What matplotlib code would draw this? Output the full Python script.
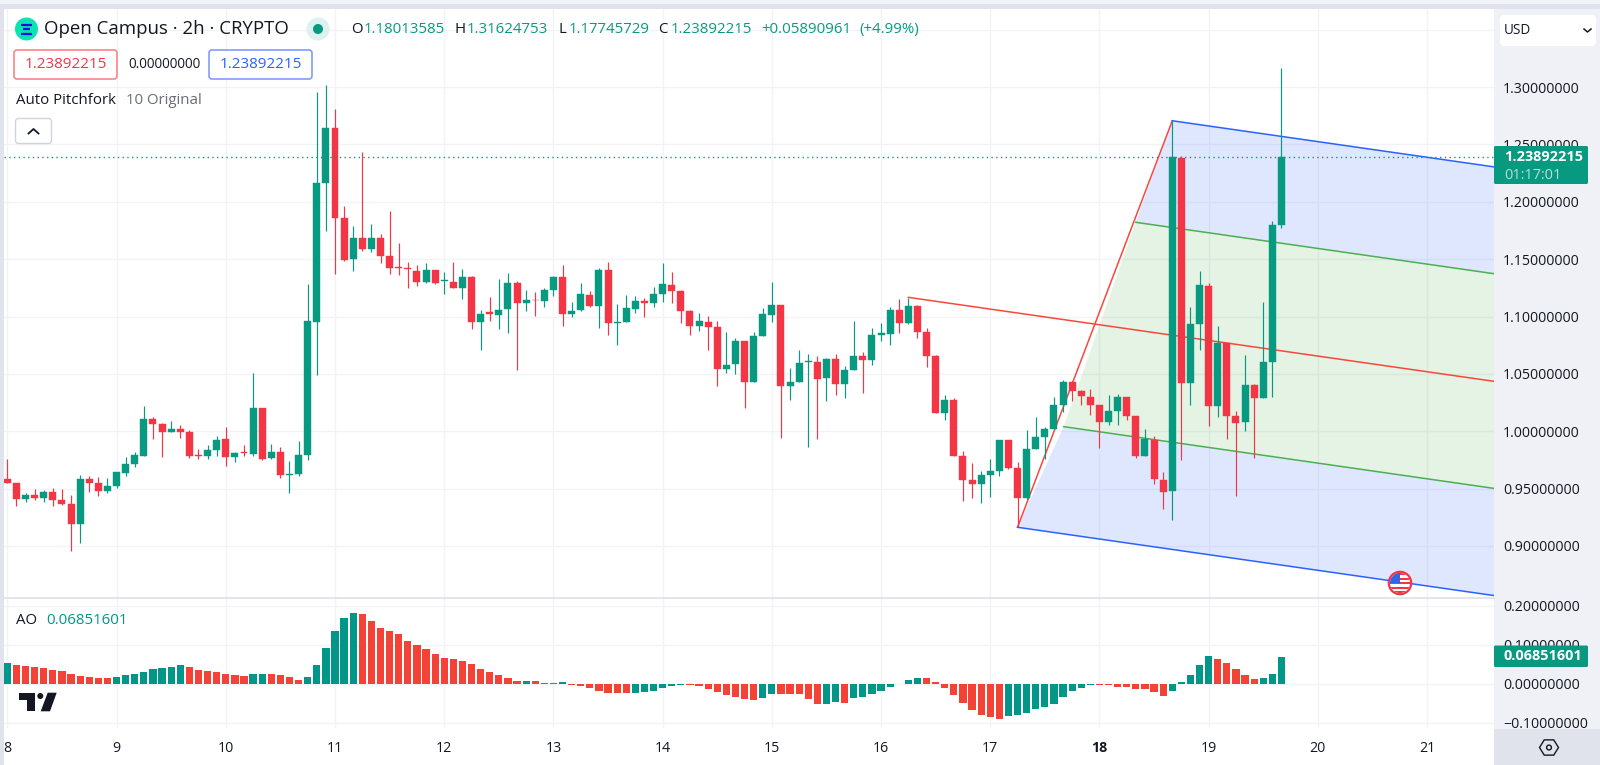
import matplotlib
matplotlib.use('Agg')
import matplotlib.pyplot as plt
from matplotlib.patches import Circle, FancyBboxPatch, Polygon, Rectangle
import numpy as np

plt.rcParams['font.family'] = ['Open Sans', 'DejaVu Sans']

GREEN = '#089981'
RED = '#F23645'
AO_GREEN = '#009688'
AO_RED = '#F44336'
BLUE = '#2962FF'
FORK_RED = '#F9483B'
DARK = '#131722'
GRID = '#F1F3F6'
PANEL = '#E0E3EB'

# 2h candles, one row per day, starting on the 8th
opens = [.9586, .9548, .9409, .9447, .9417, .9473, .9397, .9368, .9193, .9583, .9551, .9476,
         .9522, .9639, .9711, .9787, 1.011, 1.0061, .9997, 1.0017, .9994, .9796, .9781, .9834,
         .993, .9773, .9819, .9805, 1.02, .9764, .9819, .9618, .9624, .9793, 1.0956, 1.2166,
         1.2642, 1.1855, 1.15, 1.168, 1.1584, 1.1686, 1.1523, 1.143, 1.1419, 1.1398, 1.1302, 1.1407,
         1.1308, 1.1302, 1.125, 1.134, 1.0956, 1.1035, 1.1012, 1.1064, 1.1288, 1.1119, 1.1148, 1.1131,
         1.123, 1.134, 1.102, 1.1055, 1.1189, 1.109, 1.1407, 1.0941, 1.095, 1.1069, 1.1136, 1.1119,
         1.12, 1.1276, 1.1221, 1.1052, 1.0918, 1.0956, 1.0906, 1.0543, 1.0586, 1.0784, 1.0429, 1.0834,
         1.1017, 1.1096, 1.0397, 1.0426, 1.0601, 1.0601, 1.0464, 1.063, 1.0415, 1.0531, 1.0656, 1.0621,
         1.0842, 1.0851, 1.1061, 1.0941, 1.109, 1.0867, 1.0655, 1.0159, 1.0275, .9788, .9576, .9536,
         .9617, .9652, .9927, .9683, .9417, .9846, .9953, 1.002, 1.0226, 1.0432, 1.035, 1.0301,
         1.0226, 1.0081, 1.0174, 1.0301, 1.013, .9782, .9927, .9575, .9479, 1.238, 1.0422, 1.0937,
         1.1269, 1.0218, 1.0771, 1.0134, 1.0078, 1.0404, 1.0294, 1.0605, 1.1801]
highs = [.9758, .9548, .9464, .9493, .9487, .9502, .9499, .9444, .9618, .9607, .9604, .9595,
         .9647, .9773, .9819, 1.0218, 1.0122, 1.0072, 1.0093, 1.0055, 1.0011, .9848, .9883, .9962,
         1.0034, .9822, .988, 1.0509, 1.0203, .9889, .9866, .9738, .9918, 1.1283, 1.2953, 1.302,
         1.2811, 1.1965, 1.1791, 1.243, 1.1805, 1.1718, 1.1916, 1.1639, 1.1477, 1.1448, 1.1468, 1.1407,
         1.139, 1.1477, 1.1416, 1.1349, 1.1055, 1.1166, 1.1326, 1.1378, 1.1308, 1.1227, 1.1215, 1.125,
         1.1349, 1.1448, 1.1128, 1.1296, 1.1221, 1.1419, 1.1474, 1.1113, 1.1186, 1.118, 1.1157, 1.1258,
         1.1462, 1.1384, 1.1235, 1.1055, 1.1034, 1.1008, 1.0962, 1.0869, 1.0816, 1.0784, 1.0863, 1.1072,
         1.1302, 1.1101, 1.0548, 1.0708, 1.0671, 1.0659, 1.0636, 1.0671, 1.0569, 1.0959, 1.0688, 1.09,
         1.0941, 1.1087, 1.1151, 1.1165, 1.1096, 1.0901, 1.0661, 1.0316, 1.029, .9831, .9724, .9654,
         .9759, .9924, .9927, .9733, 1.0011, 1.0121, 1.0034, 1.0298, 1.0449, 1.044, 1.0359, 1.0365,
         1.0232, 1.0316, 1.0324, 1.0301, 1.013, 1.0017, .9956, .9642, 1.27, 1.2395, 1.1085, 1.14,
         1.1289, 1.0919, 1.0771, 1.0177, 1.0666, 1.0413, 1.1129, 1.1836, 1.3162]
lows = [.9546, .9345, .938, .9403, .9385, .9345, .9359, .8958, .9025, .9467, .9438, .9464,
        .9502, .9613, .9685, .9781, .993, .9778, .9994, .9941, .9767, .9758, .9755, .9781,
        .9694, .9732, .9781, .9787, .9752, .9755, .9595, .9458, .961, .975, 1.0494, 1.1744,
        1.1369, 1.1488, 1.1395, 1.157, 1.1561, 1.1468, 1.1369, 1.136, 1.1247, 1.1265, 1.1296, 1.1279,
        1.1198, 1.125, 1.1154, 1.0895, 1.0706, 1.0965, 1.0895, 1.086, 1.0535, 1.1052, 1.1003, 1.1087,
        1.118, 1.0921, 1.0994, 1.1052, 1.1081, 1.09, 1.084, 1.0755, 1.095, 1.1034, 1.0994, 1.1084,
        1.113, 1.1119, 1.0947, 1.084, 1.0871, 1.0706, 1.0397, 1.0508, 1.0495, 1.0202, 1.0429, 1.0834,
        1.0956, .9937, 1.0272, 1.0426, .9867, .9935, 1.0266, 1.0319, 1.0292, 1.0531, 1.0336, 1.0578,
        1.0787, 1.0749, 1.0854, 1.0933, 1.0813, 1.0562, 1.0159, 1.0098, .9782, .9388, .9414, .9376,
        .9425, .9611, .9669, .9164, .9411, .9846, .9759, 1.002, 1.0165, 1.0266, 1.0232, 1.0139,
        .9855, 1.0058, 1.0058, 1.0101, .9768, .9782, .9536, .9319, .9223, .975, 1.0227, 1.071,
        1.0046, 1.0125, .993, .9432, 1.0003, .9764, 1.0294, 1.0302, 1.1775]
closes = [.9546, .9409, .9447, .942, .9473, .9397, .9368, .9193, .9586, .9551, .9479, .9525,
          .9642, .9711, .979, 1.011, 1.0066, .9997, 1.0017, .9994, .9787, .9784, .9834, .9927,
          .9773, .9813, .981, 1.0203, .9761, .9816, .9618, .963, .9793, 1.0961, 1.2166, 1.2642,
          1.1855, 1.1494, 1.1683, 1.1584, 1.1686, 1.1526, 1.1421, 1.1421, 1.1413, 1.1302, 1.1407, 1.1296,
          1.1314, 1.125, 1.134, 1.0956, 1.1026, 1.1026, 1.1061, 1.1288, 1.1122, 1.1145, 1.1142, 1.1233,
          1.1343, 1.102, 1.1052, 1.1192, 1.1093, 1.1407, 1.0941, 1.0953, 1.1072, 1.1136, 1.1119, 1.12,
          1.1282, 1.1221, 1.1052, 1.0918, 1.0962, 1.0906, 1.0543, 1.0578, 1.0784, 1.0429, 1.0834, 1.1023,
          1.1096, 1.0397, 1.0432, 1.0592, 1.0609, 1.0458, 1.063, 1.0415, 1.0531, 1.0656, 1.0621, 1.0839,
          1.0854, 1.1061, 1.0944, 1.109, 1.0866, 1.0655, 1.0159, 1.0275, .9788, .9576, .9536, .9617,
          .9652, .9924, .9681, .9422, .9846, .9953, 1.0023, 1.0226, 1.0432, 1.0353, 1.0304, 1.0226,
          1.0081, 1.0174, 1.0301, 1.0133, .9788, .993, .9582, .947, 1.2389, 1.0422, 1.0934, 1.1271,
          1.0218, 1.0771, 1.0134, 1.0073, 1.0404, 1.0294, 1.0602, 1.1795, 1.2389]

ao = [.0515, .048, .0446, .043, .0395, .0343, .0309, .0249, .0189, .0163, .0146, .0129,
      .0163, .0215, .0232, .0292, .0369, .0403, .0429, .0464, .0412, .0352, .0309, .0283,
      .0232, .0206, .0205, .0249, .025, .0232, .0223, .0172, .0086, .0172, .0481, .0918,
      .1348, .1674, .182, .1794, .1605, .1425, .1348, .1262, .1082, .0979, .0876, .0755,
      .0661, .0627, .0575, .0489, .0378, .0292, .0223, .0129, .0052, .0077, .0052, .0018,
      .0016, .0043, -.0034, -.0069, -.0112, -.018, -.0232, -.0249, -.025, -.0232, -.0215, -.0197,
      -.0112, -.0069, -.004, -.0043, -.0069, -.0146, -.0223, -.0292, -.0335, -.0403, -.0421, -.0361,
      -.0258, -.0275, -.0276, -.0277, -.0395, -.0528, -.0524, -.0481, -.0498, -.0378, -.0335, -.0258,
      -.018, -.0077, -.0017, .0094, .0146, .0129, .0043, -.0103, -.0283, -.0498, -.0687, -.0815,
      -.0867, -.091, -.0824, -.0815, -.0755, -.0652, -.0592, -.0515, -.0335, -.0197, -.0112, -.0034,
      -.0036, -.0038, -.0077, -.0094, -.0129, -.0137, -.0206, -.0318, -.018, .0043, .0206, .0472,
      .0712, .0635, .0515, .0378, .0223, .0112, .0129, .024, .0685]

day_ticks = [8, 9, 10, 11, 12, 13, 14, 15, 16, 17, 18, 19, 20, 21]
price_ticks = [.90, .95, 1.00, 1.05, 1.10, 1.15, 1.20, 1.25, 1.30, 1.35]
ao_ticks = [-.10, 0, .10, .20]
last_price = 1.23892215

# pitchfork anchors (day, price)
RIGHT_DAY = 21.613
fork_a = [17.25, .9163]
fork_b = [18.667, 1.2706]
fork_h = [16.25, 1.1167]
green_up_start = [18.332, 1.1821]
green_lo_start = [17.673, 1.004]
end_upper = [RIGHT_DAY, 1.2304]
end_green_up = [RIGHT_DAY, 1.1373]
end_median = [RIGHT_DAY, 1.0435]
end_green_lo = [RIGHT_DAY, .9502]
end_lower = [RIGHT_DAY, .8568]

WIDTH, HEIGHT = 1600, 765


def pane(left, top, right, bottom, **kwargs):
    return fig.add_axes([left / WIDTH, 1 - bottom / HEIGHT,
                         (right - left) / WIDTH, (bottom - top) / HEIGHT], **kwargs)


def price_label(v, pos):
    # the 1.35 gridline has no label, the USD button sits there
    if v > 1.32:
        return ''
    return f'{v:.8f}'.replace('-', '\u2212')


def style_pane(ax, ticks):
    ax.set_xlim(7.969, RIGHT_DAY)
    ax.set_xticks(day_ticks)
    ax.set_yticks(ticks)
    ax.yaxis.tick_right()
    ax.yaxis.set_major_formatter(price_label)
    ax.grid(True, color=GRID, linewidth=1.0)
    ax.set_axisbelow(True)
    ax.tick_params(length=0, labelsize=10.2, labelcolor=DARK)
    ax.tick_params(axis='y', pad=6.5)
    for spine in ax.spines.values():
        spine.set_visible(False)


def rounded(x0, y0, x1, y1, edge, face='white', lw=1.0, r=3):
    ui.add_patch(FancyBboxPatch((x0 + r, y0 + r), x1 - x0 - 2 * r, y1 - y0 - 2 * r,
                                boxstyle=f'round,pad={r},rounding_size={r}',
                                edgecolor=edge, facecolor=face, linewidth=lw))


def label(x, y, s, color=DARK, px=15, **kwargs):
    kwargs.setdefault('va', 'center')
    ui.text(x, y, s, color=color, fontsize=px * 0.72, **kwargs)


fig = plt.figure(figsize=(WIDTH / 100, HEIGHT / 100), dpi=100, facecolor='white')

# page background, behind everything
bg = pane(0, 0, WIDTH, HEIGHT, zorder=0)
bg.set_xlim(0, WIDTH)
bg.set_ylim(HEIGHT, 0)
bg.axis('off')
bg.add_patch(Rectangle((0, 0), WIDTH, 4, color='#F0F3FA', lw=0))
bg.add_patch(Rectangle((0, 4), WIDTH, 5, color=PANEL, lw=0))
bg.add_patch(Rectangle((0, 4), 4, HEIGHT, color=PANEL, lw=0))
bg.add_patch(Rectangle((1494, 9), 106, 720, color='#F0F1F6', lw=0))
bg.add_patch(Rectangle((1494, 729), 106, 36, color=PANEL, lw=0))

ax = pane(4, 9, 1494, 597.5, zorder=1)
style_pane(ax, price_ticks)
ax.set_ylim(.8551, 1.368)
ax.tick_params(axis='x', labelbottom=False)

days = 8 + np.arange(len(closes)) / 12
opens = np.array(opens)
closes = np.array(closes)
up = closes >= opens
candle_colors = np.where(up, GREEN, RED)

# pitchfork fills and lines go under the candles
ax.fill(*zip(green_up_start, fork_b, end_upper, end_green_up), color=BLUE, alpha=.15, lw=0, zorder=1.5)
ax.fill(*zip(green_lo_start, green_up_start, end_green_up, end_green_lo), color='#4CAF50', alpha=.15, lw=0, zorder=1.5)
ax.fill(*zip(fork_a, green_lo_start, end_green_lo, end_lower), color=BLUE, alpha=.15, lw=0, zorder=1.5)
ax.plot(*zip(fork_a, fork_b), color=FORK_RED, lw=1.1, zorder=1.8)
ax.plot(*zip(fork_h, end_median), color=FORK_RED, lw=1.1, zorder=1.8)
ax.plot(*zip(fork_b, end_upper), color=BLUE, lw=1.1, zorder=1.8)
ax.plot(*zip(fork_a, end_lower), color=BLUE, lw=1.1, zorder=1.8)
ax.plot(*zip(green_up_start, end_green_up), color='#4CAF50', lw=1.1, zorder=1.8)
ax.plot(*zip(green_lo_start, end_green_lo), color='#4CAF50', lw=1.1, zorder=1.8)

ax.vlines(days, lows, highs, colors=candle_colors, linewidth=.85, zorder=2)
ax.bar(days, np.abs(closes - opens), bottom=np.minimum(opens, closes), width=.064,
       color=candle_colors, edgecolor=candle_colors, linewidth=.3, zorder=2.5)
ax.axhline(last_price, color=GREEN, linewidth=1, linestyle=(0, (1, 2.4)), zorder=3)

ax_ao = pane(4, 599, 1494, 728, zorder=1)
style_pane(ax_ao, ao_ticks)
ax_ao.set_ylim(-.1141, .2167)
ao = np.array(ao)
rising = np.concatenate([[True], np.diff(ao) > 0])
ax_ao.bar(days, ao, width=.066, color=np.where(rising, AO_GREEN, AO_RED), zorder=2)
ax_ao.tick_params(axis='x', pad=9.5)
for tick in ax_ao.get_xticklabels():
    if tick.get_text() == '18':
        tick.set_fontweight('bold')

# everything from the chart's own toolbar, placed in pixels
ui = pane(0, 0, WIDTH, HEIGHT, zorder=5)
ui.set_xlim(0, WIDTH)
ui.set_ylim(HEIGHT, 0)
ui.axis('off')
ui.patch.set_alpha(0)

ui.plot([4, 1494], [598, 598], color=PANEL, lw=1.3)

# symbol icon
ui.add_patch(Circle((26.5, 29), 11.5, color='#0BE3B0', lw=0))
for bar_y, x0, x1 in zip([24.5, 29, 33.5], [21, 23, 21], [32, 30, 32]):
    ui.plot([x0, x1], [bar_y, bar_y], color='#1010E0', lw=1.6, solid_capstyle='butt')
label(43.5, 29, 'Open Campus \u00b7 2h \u00b7 CRYPTO', px=18.6)
ui.add_patch(Circle((318, 29), 11.5, color='#DDF1EE', lw=0))
ui.add_patch(Circle((318, 29), 5, color=GREEN, lw=0))

for x, s in zip([351, 455, 558, 658], 'OHLC'):
    label(x, 29.5, s)
for x, s in zip([364, 467, 568.5, 671, 761, 859],
                ['1.18013585', '1.31624753', '1.17745729', '1.23892215', '+0.05890961', '(+4.99%)']):
    label(x, 29.5, s, color=GREEN)

rounded(14, 50, 117, 79, '#F77C80', lw=1.1)
label(65.5, 64.5, '1.23892215', color=RED, ha='center', px=15.3)
label(128, 64.5, '0.00000000', px=13.5)
rounded(209, 50, 312, 79, '#7595FF', lw=1.1)
label(260.5, 64.5, '1.23892215', color=BLUE, ha='center', px=15.3)
label(15.5, 100, 'Auto Pitchfork', px=15)
label(126, 100, '10 Original', color='#6A6D78', px=15)
rounded(15.5, 118.5, 51.5, 143.5, '#D1D4DC')
ui.plot([28.5, 33.5, 38.5], [133.5, 129, 133.5], color=DARK, lw=1.3)

label(15.5, 620, 'AO', px=15)
label(46, 620, '0.06851601', color=AO_GREEN, px=15)

# TradingView mark
ui.add_patch(Polygon([(19, 692.7), (34.7, 692.7), (34.7, 711.3), (26.7, 711.3), (26.7, 700), (19, 700)], color=DARK, lw=0))
ui.add_patch(Circle((40.3, 696), 3, color=DARK, lw=0))
ui.add_patch(Polygon([(47.7, 692.7), (56.7, 692.7), (50, 711.3), (40.7, 711.3)], color=DARK, lw=0))

# flag badge on the time scale
flag_x, flag_y = 1400, 583
flag = Circle((flag_x, flag_y), 10, facecolor='white', edgecolor='none')
ui.add_patch(flag)
for offset in [-10, -5.5, -1, 3.5, 8]:
    stripe = Rectangle((flag_x - 12, flag_y + offset), 24, 2.2, color=RED, lw=0)
    ui.add_patch(stripe)
    stripe.set_clip_path(flag)
canton = Rectangle((flag_x - 12, flag_y - 12), 12, 12, color='#2F66E8', lw=0)
ui.add_patch(canton)
canton.set_clip_path(flag)
ui.add_patch(Circle((flag_x, flag_y), 11.2, facecolor='none', edgecolor=RED, lw=1.6))

# last value tags on the axis
rounded(1494, 146, 1588, 184, GREEN, face=GREEN, lw=0, r=1.5)
label(1504, 156.5, '1.23892215', color='white', px=14.5, fontweight='bold')
label(1504, 175, '01:17:01', color='#B7E0D9', px=14.5)
rounded(1494, 645.5, 1588, 667, GREEN, face=GREEN, lw=0, r=1.5)
label(1504, 656.5, '0.06851601', color='white', px=14.5, fontweight='bold')

rounded(1500, 15, 1596, 46, 'white', lw=0, r=4)
label(1504, 30.5, 'USD', px=13.5)
ui.plot([1584, 1587.5, 1591], [29, 32, 29], color=DARK, lw=1.1)

# settings hexagon
hex_angles = np.deg2rad([0, 60, 120, 180, 240, 300])
ui.add_patch(Polygon(np.column_stack([1549 + 9.5 * np.cos(hex_angles), 747.5 + 8.8 * np.sin(hex_angles)]),
                     facecolor='none', edgecolor=DARK, lw=1))
ui.add_patch(Circle((1549, 747.5), 2.4, facecolor='none', edgecolor=DARK, lw=1))

fig.savefig('out.png', dpi=100, facecolor=fig.get_facecolor())
